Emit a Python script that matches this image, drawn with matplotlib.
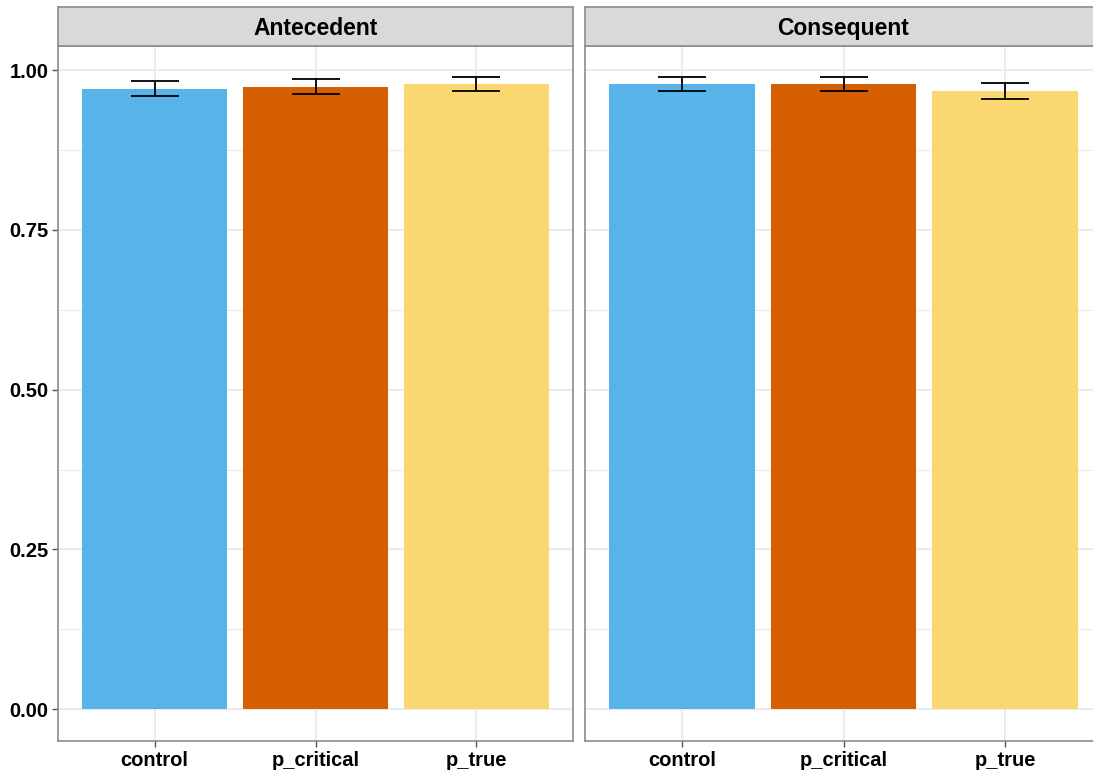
import matplotlib

matplotlib.use("Agg")
import matplotlib.pyplot as plt
import numpy as np

plt.rcParams["font.family"] = ["Liberation Sans", "DejaVu Sans"]

# accuracy per condition, one facet per position
conditions = ["control", "p_critical", "p_true"]
facets = ["Antecedent", "Consequent"]
antecedent_mean = [0.971, 0.974, 0.978]
antecedent_se = [0.0115, 0.0115, 0.011]
consequent_mean = [0.978, 0.978, 0.967]
consequent_se = [0.011, 0.011, 0.013]

COLORS = ["#56B4E9", "#D55E00", "#FAD86F"]
GRID = "#EBEBEB"
BORDER = "#8C8C8C"

W, H = 1093, 773
fig = plt.figure(figsize=(W / 100, H / 100), dpi=100)


def px_box(left, top, right, bottom):
    return [left / W, 1 - bottom / H, (right - left) / W, (bottom - top) / H]


# second panel runs a little past the right edge of the canvas
panels = [(58, 573), (585, 1102)]
means = [antecedent_mean, consequent_mean]
ses = [antecedent_se, consequent_se]
yticks = [0.0, 0.25, 0.5, 0.75, 1.0]

for i, ((left, right), title) in enumerate(zip(panels, facets)):
    ax = fig.add_axes(px_box(left, 46, right, 741))
    x = np.arange(1, len(conditions) + 1)
    ax.bar(x, means[i], width=0.9, color=COLORS, zorder=2)
    ax.errorbar(x, means[i], yerr=ses[i], fmt="none", ecolor="black",
                elinewidth=1.3, capsize=17, capthick=1.3, zorder=3)

    ax.set_xlim(0.4, 3.6)
    ax.set_ylim(-0.0496, 1.0376)
    ax.set_xticks(x)
    ax.set_xticklabels(conditions, fontsize=14.5, fontweight="bold")
    ax.set_yticks(yticks)
    ax.set_yticks([0.125, 0.375, 0.625, 0.875], minor=True)
    if i == 0:
        ax.set_yticklabels([f"{v:.2f}" for v in yticks], fontsize=14.5, fontweight="bold")
    else:
        ax.tick_params(axis="y", which="both", left=False, labelleft=False)

    ax.grid(True, which="major", color=GRID, linewidth=1.5, zorder=0)
    ax.grid(True, which="minor", axis="y", color=GRID, linewidth=0.8, zorder=0)
    ax.set_axisbelow(True)
    ax.tick_params(axis="both", which="major", length=4, width=1, color="#555555", pad=3)
    ax.tick_params(axis="y", which="minor", length=0)
    for s in ax.spines.values():
        s.set_color(BORDER)
        s.set_linewidth(1.2)

    # facet strip
    strip = fig.add_axes(px_box(left, 7, right, 46))
    strip.set_facecolor("#D9D9D9")
    strip.set_xticks([])
    strip.set_yticks([])
    for s in strip.spines.values():
        s.set_color(BORDER)
        s.set_linewidth(1.2)
    strip.text(0.5, 0.45, title, ha="center", va="center",
               fontsize=16.5, fontweight="bold", transform=strip.transAxes)

fig.savefig("out.png", dpi=100)
